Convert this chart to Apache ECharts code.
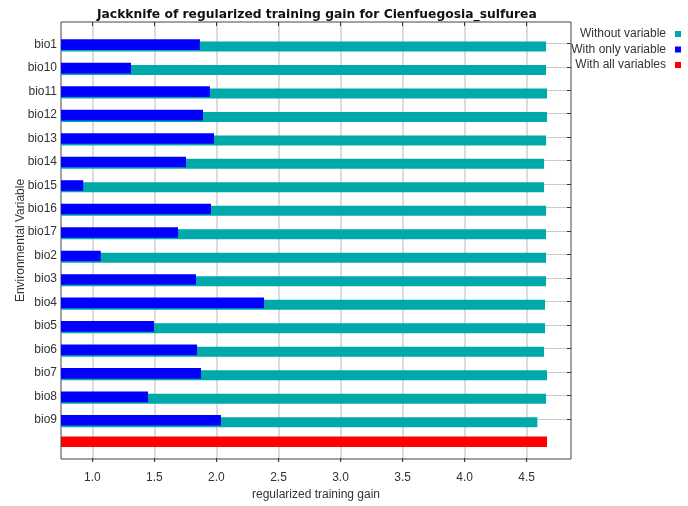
<!DOCTYPE html>
<html>
<head>
<meta charset="utf-8">
<script src="https://cdn.jsdelivr.net/npm/echarts@6/dist/echarts.min.js"></script>
<style>
  html, body { margin: 0; padding: 0; background: #ffffff; }
  #chart { width: 688px; height: 506px; }
</style>
</head>
<body>
<div id="chart"></div>
<script>
// Environmental variables, in the order they are listed on the chart
const variables = ['bio1', 'bio10', 'bio11', 'bio12', 'bio13', 'bio14', 'bio15', 'bio16', 'bio17',
                   'bio2', 'bio3', 'bio4', 'bio5', 'bio6', 'bio7', 'bio8', 'bio9'];

// Regularized training gain of the model built without each variable
const withoutVariable = [4.656, 4.656, 4.664, 4.664, 4.656, 4.640, 4.640, 4.656, 4.656,
                         4.656, 4.656, 4.648, 4.648, 4.640, 4.664, 4.656, 4.586];

// Regularized training gain of the model built with only each variable
const withOnlyVariable = [1.867, 1.312, 1.948, 1.892, 1.981, 1.755, 0.927, 1.956, 1.691,
                          1.068, 1.836, 2.384, 1.497, 1.844, 1.876, 1.449, 2.037];

// Gain of the full model
const withAllVariables = 4.664;

// Gain axis tick labels
const gainTicks = ['1.0', '1.5', '2.0', '2.5', '3.0', '3.5', '4.0', '4.5'];

const gainMin = 0.748, gainMax = 4.857;
const FONT = "'Liberation Sans', Arial, sans-serif";
const TEXT = '#333333';

// one extra row at the bottom holds the full-model bar
const rows = variables.concat(['']);
const tealData = withoutVariable.concat([null]);
const blueData = withOnlyVariable.concat([null]);
const redData = variables.map(() => null).concat([withAllVariables]);

const chart = echarts.init(document.getElementById('chart'), null, { renderer: 'canvas' });

const tickStyle = { show: true, inside: true, length: 4, lineStyle: { color: '#333' } };

chart.setOption({
  animation: false,
  backgroundColor: '#ffffff',
  textStyle: { fontFamily: FONT },
  title: {
    text: 'Jackknife of regularized training gain for Cienfuegosia_sulfurea',
    left: 92, top: 4,
    textStyle: { fontFamily: "'DejaVu Sans', sans-serif", fontSize: 12.3, fontWeight: 'bold', color: '#111' }
  },
  legend: {
    orient: 'vertical', right: 2, top: 22, align: 'right',
    icon: 'rect', itemWidth: 6, itemHeight: 6, itemGap: 1.5,
    data: ['Without variable', 'With only variable', 'With all variables'],
    textStyle: { fontFamily: FONT, fontSize: 12, color: TEXT, lineHeight: 14, padding: [0, 4, 0, 0] }
  },
  grid: [
    // 0: plot frame + axis names
    { left: 61, right: 117, top: 22, bottom: 44, show: true, borderColor: '#444', borderWidth: 1, z: 3 },
    // 1: bars and variable names
    { left: 61, right: 117, top: 32.6, height: 422.64 },
    // 2: gain ticks, labels and vertical grid lines
    { left: 92.3, width: 434.4, top: 22, bottom: 44 },
    // 3: horizontal grid lines and right-side ticks
    { left: 61, right: 117, top: 43.3, height: 375.7 }
  ],
  xAxis: [
    { gridIndex: 0, type: 'value', min: gainMin, max: gainMax,
      axisLine: { show: false, onZero: false }, axisTick: { show: false }, axisLabel: { show: false }, splitLine: { show: false },
      name: 'regularized training gain', nameLocation: 'middle', nameGap: 30,
      nameTextStyle: { fontFamily: FONT, fontSize: 12, color: TEXT } },
    { gridIndex: 1, type: 'value', min: gainMin, max: gainMax, show: false },
    { gridIndex: 2, type: 'value', min: 1, max: 4.5, interval: 0.5, position: 'bottom',
      axisLine: { show: false, onZero: false },
      axisTick: tickStyle,
      axisLabel: { margin: 10, fontFamily: FONT, fontSize: 12, color: TEXT,
                   formatter: (v) => gainTicks[Math.round((v - 1) / 0.5)] },
      splitLine: { show: true, lineStyle: { color: '#dcdcdc', width: 2 } } },
    { gridIndex: 2, type: 'value', min: 1, max: 4.5, interval: 0.5, position: 'top',
      axisLine: { show: false, onZero: false },
      axisTick: tickStyle,
      axisLabel: { show: false }, splitLine: { show: false } },
    { gridIndex: 3, type: 'value', min: 0, max: 1, show: false }
  ],
  yAxis: [
    { gridIndex: 0, type: 'value', min: 0, max: 1,
      axisLine: { show: false, onZero: false }, axisTick: { show: false }, axisLabel: { show: false }, splitLine: { show: false },
      name: 'Environmental Variable', nameLocation: 'middle', nameGap: 34, nameRotate: 90,
      nameTextStyle: { fontFamily: FONT, fontSize: 12, color: TEXT } },
    { gridIndex: 1, type: 'category', inverse: true, data: rows,
      axisLine: { show: false, onZero: false }, axisTick: { show: false },
      axisLabel: { margin: 4, fontFamily: FONT, fontSize: 12, color: TEXT, padding: [6, 0, 0, 0] },
      splitLine: { show: false } },
    { gridIndex: 2, type: 'value', min: 0, max: 1, show: false },
    { gridIndex: 3, type: 'value', inverse: true, min: 0, max: 16, interval: 1, position: 'right',
      axisLine: { show: false, onZero: false },
      axisTick: tickStyle,
      axisLabel: { show: false },
      splitLine: { show: true, lineStyle: { color: '#cccccc', width: 1 } } }
  ],
  series: [
    { name: 'With all variables', type: 'bar', xAxisIndex: 1, yAxisIndex: 1,
      data: redData, barWidth: 10.6, barGap: '-80%', itemStyle: { color: '#ff0000' }, z: 2 },
    { name: 'With only variable', type: 'bar', xAxisIndex: 1, yAxisIndex: 1,
      data: blueData, barWidth: 10.6, barGap: '-80%', itemStyle: { color: '#0000ff' }, z: 4 },
    { name: 'Without variable', type: 'bar', xAxisIndex: 1, yAxisIndex: 1,
      data: tealData, barWidth: 10, barGap: '-80%', itemStyle: { color: '#00aaaa' }, z: 3 }
  ]
});
</script>
</body>
</html>
